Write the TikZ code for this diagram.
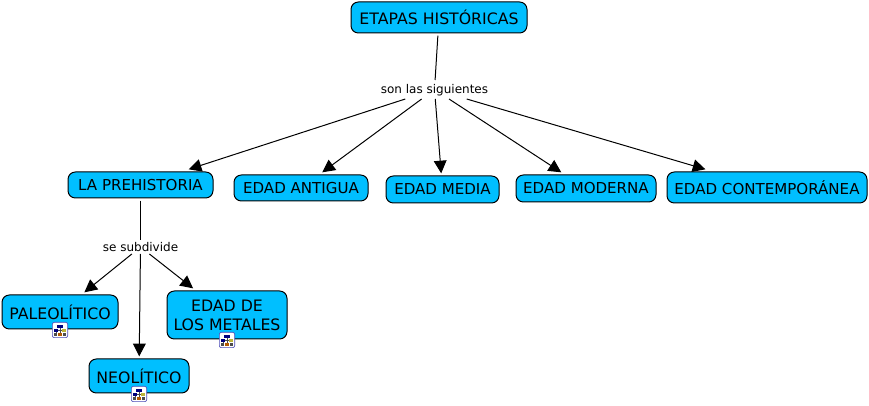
\documentclass[tikz,border=0pt]{standalone}
\usepackage{fontspec}
\setmainfont{DejaVu Sans}
\usetikzlibrary{arrows.meta}
\definecolor{conceptfill}{HTML}{00BFFF}
\newcommand{\boxfont}{\fontsize{11.8pt}{14.25pt}\selectfont}
\newcommand{\rowfont}{\fontsize{11.3pt}{14.25pt}\selectfont}
\newcommand{\linkfont}{\fontsize{9pt}{10pt}\selectfont}
\tikzset{
  concept/.style={draw=black,fill=conceptfill,rounded corners=5.5pt,line width=0.75pt,inner sep=0pt,
     outer sep=2pt,align=center,font=\boxfont},
  rowconcept/.style={concept,font=\rowfont},
  linker/.style={inner sep=0pt,outer sep=0pt,font=\linkfont,text height=8pt,text depth=1.5pt},
  plain/.style={line width=0.75pt,draw=black},
  arrowed/.style={plain,-{Triangle[length=9.5pt,width=9.5pt]}},
  iconbox/.style={draw=blue!60!black!70,fill=white,rounded corners=1.5pt,line width=0.5pt,minimum size=11.5pt,inner sep=0pt}
}
\newcommand{\mapicon}[2]{%
  \node[iconbox] (#1) at (#2) {};
  \begin{scope}[shift={(#2)}]
    \draw[line width=0.4pt,black!70] (0,-3) -- (0,0) (-4,0) -- (4,0) (-4,0) -- (-4,4) (4,0) -- (4,2) (0,0) -- (0,4);
    \fill[blue!50!black] (-3,-5) rectangle (3,-2);
    \fill[blue!50!black] (-6,-1) rectangle (-2,2);
    \fill[yellow!70!black] (2,-1) rectangle (6,2);
    \fill[black!70] (-6,3) rectangle (-3,6);
    \fill[orange!70!black] (-2,3) rectangle (2,6);
    \fill[black!70] (3,3) rectangle (6,6);
  \end{scope}}
\begin{document}
\begin{tikzpicture}[x=0.75pt,y=-0.75pt]
\useasboundingbox (0,0) rectangle (869,406);
\fill[white] (0,0) rectangle (869,406);
\node[concept,minimum width=132pt,minimum height=23.25pt] (etapas) at (439,17.5) {ETAPAS HISTÓRICAS};
\node[linker,minimum width=108pt,minimum height=14.25pt] (son) at (434.5,89.5) {son las siguientes};
\node[rowconcept,minimum width=108.75pt,minimum height=19.5pt] (pre) at (140.5,185) {LA PREHISTORIA};
\node[rowconcept,minimum width=100.5pt,minimum height=19.5pt] (antigua) at (301,188) {EDAD ANTIGUA};
\node[rowconcept,minimum width=84.75pt,minimum height=20.25pt] (media) at (442.5,189.5) {EDAD MEDIA};
\node[rowconcept,minimum width=105pt,minimum height=20.25pt] (moderna) at (586,188.5) {EDAD MODERNA};
\node[rowconcept,minimum width=150pt,minimum height=23.25pt] (contemp) at (767,187.5) {EDAD CONTEMPORÁNEA};
\node[linker,minimum width=60pt,minimum height=10.5pt] (sub) at (140.5,247) {se subdivide};
\node[concept,minimum width=87pt,minimum height=25.5pt] (paleo) at (60,312) {PALEOLÍTICO};
\node[concept,minimum width=75pt,minimum height=25.5pt] (neo) at (139,376) {NEOLÍTICO};
\node[concept,minimum width=90pt,minimum height=36pt] (metales) at (227,315) {EDAD DE\\LOS METALES};
\mapicon{iconpaleo}{60,330}
\mapicon{iconneo}{139,394}
\mapicon{iconmetales}{227,340}
\draw[plain] (etapas) -- (son);
\draw[arrowed] (son) -- (pre);
\draw[arrowed] (son) -- (antigua);
\draw[arrowed] (son) -- (media);
\draw[arrowed] (son) -- (moderna);
\draw[arrowed] (son) -- (contemp);
\draw[plain] (pre) -- (sub);
\draw[arrowed] (sub) -- (paleo);
\draw[arrowed] (sub) -- (neo);
\draw[arrowed] (sub) -- (metales);
\end{tikzpicture}
\end{document}
